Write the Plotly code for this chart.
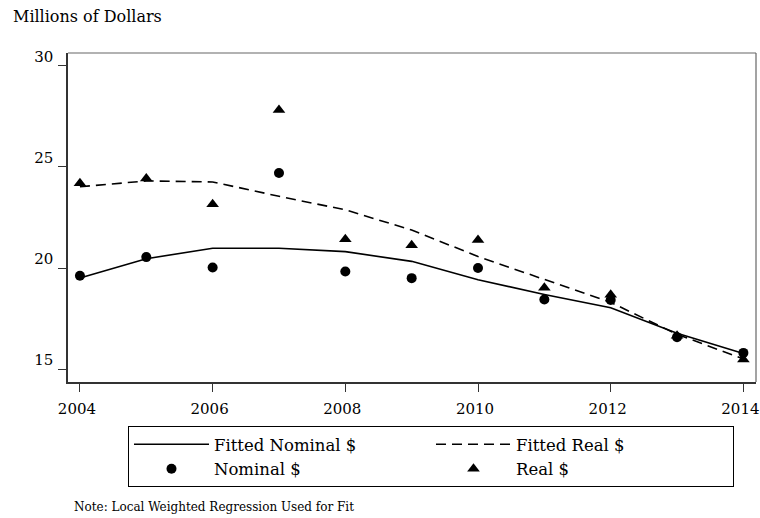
import plotly.graph_objects as go

years = [2004, 2005, 2006, 2007, 2008, 2009, 2010, 2011, 2012, 2013, 2014]
nominal = [19.62, 20.54, 20.03, 24.70, 19.83, 19.50, 20.00, 18.44, 18.42, 16.58, 15.80]
real = [24.20, 24.43, 23.15, 27.82, 21.42, 21.13, 21.39, 19.02, 18.68, 16.65, 15.47]
fitted_nominal = [19.51, 20.46, 20.98, 20.98, 20.81, 20.33, 19.42, 18.69, 18.03, 16.77, 15.77]
fitted_real = [24.02, 24.31, 24.26, 23.55, 22.88, 21.88, 20.57, 19.42, 18.30, 16.72, 15.50]

y_ticks = [15, 20, 25, 30]
x_ticks = [2004, 2006, 2008, 2010, 2012, 2014]

FONT = "DejaVu Serif"

fig = go.Figure()
fig.add_trace(go.Scatter(x=years, y=fitted_nominal, mode="lines", name="Fitted Nominal $",
                         line=dict(color="black", width=1.6)))
fig.add_trace(go.Scatter(x=years, y=fitted_real, mode="lines", name="Fitted Real $",
                         line=dict(color="black", width=1.6, dash="10px,6px")))
fig.add_trace(go.Scatter(x=years, y=nominal, mode="markers", name="Nominal $",
                         marker=dict(symbol="circle", size=10, color="black")))
fig.add_trace(go.Scatter(x=years, y=real, mode="markers", name="Real $",
                         marker=dict(symbol="triangle-up", size=11, color="black")))

fig.update_layout(
    width=760, height=518,
    margin=dict(l=68, r=4, t=53, b=136, autoexpand=False),
    paper_bgcolor="white", plot_bgcolor="white",
    font=dict(family=FONT, size=16, color="black"),
    showlegend=True,
    legend=dict(
        orientation="h", x=0.0872, y=-0.1337, xanchor="left", yanchor="top",
        bordercolor="black", borderwidth=1, font=dict(family=FONT, size=16.5),
        itemwidth=75, entrywidth=212, entrywidthmode="pixels",
        traceorder="normal",
    ),
    xaxis=dict(
        range=[2003.82, 2014.19], tickvals=x_ticks, ticktext=[str(v) for v in x_ticks],
        showgrid=False, zeroline=False, showline=True, linecolor="#333", linewidth=1.5,
        ticks="outside", ticklen=8, tickwidth=1, tickcolor="#333",
        ticklabelstandoff=4, ticklabelshift=-3, ticklabeloverflow="allow",
        tickfont=dict(family=FONT, size=15),
    ),
    yaxis=dict(
        range=[14.36, 30.64], tickvals=y_ticks, ticktext=[str(v) for v in y_ticks],
        showgrid=False, zeroline=False, showline=True, linecolor="#333", linewidth=1.5,
        ticks="outside", ticklen=8, tickwidth=1, tickcolor="#333",
        ticklabelstandoff=2, ticklabelshift=-9, tickfont=dict(family=FONT, size=15),
    ),
    shapes=[
        dict(type="line", xref="paper", yref="paper", x0=0, x1=1, y0=1, y1=1,
             line=dict(color="#666", width=1.2)),
        dict(type="line", xref="paper", yref="paper", x0=1, x1=1, y0=0, y1=1,
             line=dict(color="#666", width=1.2)),
    ],
    annotations=[
        dict(text="Millions of Dollars", xref="paper", yref="paper", x=-0.0828, y=1.1459,
             xanchor="left", yanchor="top", showarrow=False,
             font=dict(family=FONT, size=16)),
        dict(text="Note: Local Weighted Regression Used for Fit", xref="paper", yref="paper",
             x=0.0058, y=-0.38, xanchor="left", yanchor="middle", showarrow=False,
             font=dict(family=FONT, size=12)),
    ],
)

# remove the browser's default 8px body margin so the 760x518 figure fills the window
fig.write_html("out.html", config={"displayModeBar": False},
               post_script="document.body.style.margin='0';")
